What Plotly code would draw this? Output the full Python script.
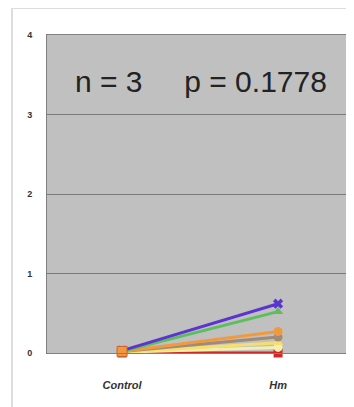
import plotly.graph_objects as go

categories = ["Control", "Hm"]
series_names = ["s1", "s2", "s3", "s4", "s5", "s6", "s7"]
red_vals = [0.0, 0.0]
lightyellow_vals = [0.01, 0.07]
yellow_vals = [0.01, 0.13]
brown_vals = [0.02, 0.20]
orange_vals = [0.02, 0.27]
green_vals = [0.02, 0.52]
purple_vals = [0.03, 0.62]
y_ticks = [0, 1, 2, 3, 4]

specs = [
    (red_vals, "#cc2a2a", "square"),
    (lightyellow_vals, "#f4eeb0", "circle"),
    (yellow_vals, "#f2e070", "triangle-up"),
    (brown_vals, "#a08a78", "circle"),
    (orange_vals, "#f09a40", "circle"),
    (green_vals, "#5cbf5c", "triangle-up"),
    (purple_vals, "#5a35d0", "x"),
]

fig = go.Figure()
xs = [0, 1]
for (vals, col, sym), nm in zip(specs, series_names):
    fig.add_trace(go.Scatter(x=xs, y=vals, mode="lines+markers", name=nm,
                             line=dict(color=col, width=3),
                             marker=dict(color=col, symbol=sym, size=9),
                             cliponaxis=False, showlegend=False))
# control square on top
fig.add_trace(go.Scatter(x=[0], y=[orange_vals[0]], mode="markers",
                         marker=dict(color="#f09a40", symbol="square", size=10,
                                     line=dict(color="#d06030", width=1)),
                         cliponaxis=False, showlegend=False))

fig.add_annotation(x=0.508, y=0.912, xref="paper", yref="paper",
                   text="n = 3&nbsp;&nbsp;&nbsp;&nbsp;&nbsp;p = 0.1778", showarrow=False,
                   font=dict(family="Liberation Sans, Arial", size=30, color="#222222"))

fig.add_shape(type="line", xref="paper", yref="paper", x0=-0.1155, x1=1.02, y0=1.085, y1=1.085,
              line=dict(color="#dddddd", width=2))
fig.add_shape(type="line", xref="paper", yref="paper", x0=-0.1155, x1=-0.1155, y0=1.085, y1=-0.17,
              line=dict(color="#dddddd", width=2))

fig.update_layout(
    width=346, height=399,
    margin=dict(l=39, r=4, t=27, b=54, autoexpand=False),
    paper_bgcolor="white",
    plot_bgcolor="#c0c0c0",
    xaxis=dict(range=[-0.481, 1.461], tickvals=xs, ticktext=["<b><i>%s</i></b>" % c for c in categories],
               showgrid=False, zeroline=False, showline=True, linecolor="#808080", mirror=True,
               tickfont=dict(family="Liberation Sans, Arial", size=11, color="#333333"), ticklen=0,
               ticklabelstandoff=22, automargin=False),
    yaxis=dict(range=[0, 4], tickvals=y_ticks, ticktext=["<b>%d</b>" % v for v in y_ticks],
               showgrid=True, gridcolor="#7a7a7a", gridwidth=1, zeroline=False,
               showline=True, linecolor="#808080", mirror=True,
               tickfont=dict(family="Liberation Sans, Arial", size=9, color="#333333"), ticklen=0,
               ticklabelstandoff=12, automargin=False),
)
fig.write_html("out.html")
